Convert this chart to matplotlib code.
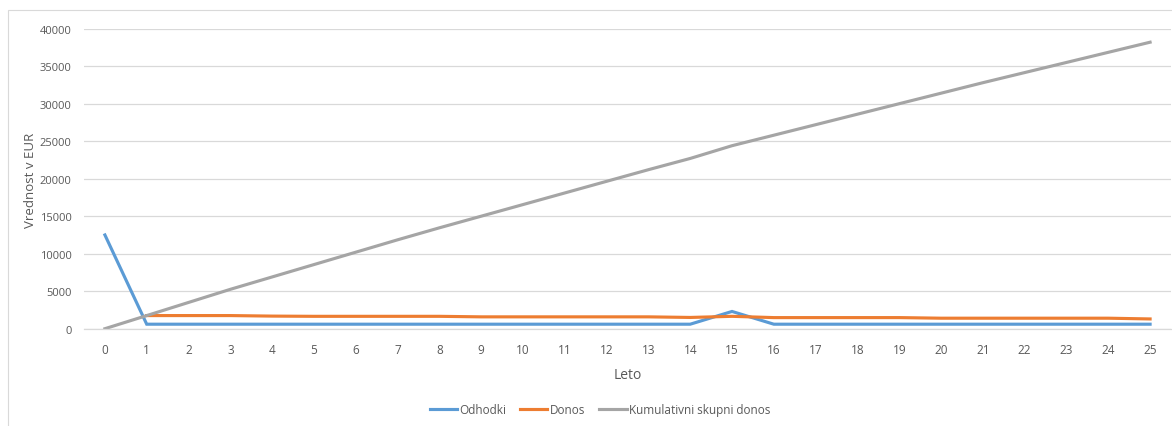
import numpy as np
import matplotlib.pyplot as plt
from matplotlib.patches import Rectangle

# Podatki po letih
leta = list(range(26))
odhodki = [12500, 600, 600, 600, 600, 600, 600, 600, 600, 600, 600, 600, 600, 600,
           600, 2300, 600, 600, 600, 600, 600, 600, 600, 600, 600, 600]
donos = [np.nan, 1750, 1750, 1750, 1680, 1650, 1650, 1650, 1650, 1580, 1580, 1580,
         1580, 1580, 1500, 1650, 1480, 1480, 1480, 1480, 1400, 1400, 1400, 1400, 1400, 1300]
kumulativa = [0, 1750, 3500, 5250, 6900, 8550, 10200, 11850, 13450, 15000, 16550,
              18100, 19650, 21200, 22700, 24400, 25800, 27200, 28600, 30000, 31400,
              32800, 34150, 35500, 36850, 38200]

plt.rcParams['font.family'] = ['Open Sans', 'DejaVu Sans']
txt = '#595959'

fig = plt.figure(figsize=(11.72, 4.27), dpi=100)
ax = fig.add_axes([84 / 1172, 1 - 329.7 / 427, (1171 - 84) / 1172, 300 / 427])

# okvir grafikona
fig.patches.append(Rectangle((8 / 1172, -0.1), 1.2, 1 - 11 / 427 + 0.1,
                             transform=fig.transFigure, fill=False,
                             edgecolor='#d9d9d9', linewidth=0.8))

ax.plot(leta, odhodki, color='#5B9BD5', lw=2.25, label='Odhodki', solid_joinstyle='miter')
ax.plot(leta, donos, color='#ED7D31', lw=2.25, label='Donos')
ax.plot(leta, kumulativa, color='#A5A5A5', lw=2.25, label='Kumulativni skupni donos')

ax.set_xlim(-0.5, 25.5)
ax.set_ylim(0, 40000)
ax.set_xticks(leta)
ax.set_yticks(range(0, 40001, 5000))
ax.grid(axis='y', color='#d9d9d9', lw=0.9)
ax.set_axisbelow(True)
for s in ['top', 'right', 'left']:
    ax.spines[s].set_visible(False)
ax.spines['bottom'].set_color('#d9d9d9')
ax.spines['bottom'].set_linewidth(0.9)
ax.tick_params(length=0, colors=txt, labelsize=8)
ax.tick_params(axis='x', labelsize=8.5, pad=10)
ax.tick_params(axis='y', pad=9)

ax.set_xlabel('Leto', color=txt, fontsize=10, labelpad=8)
fig.text(31 / 1172, 1 - 180 / 427, 'Vrednost v EUR', rotation=90, color=txt,
         fontsize=9.5, ha='center', va='center')

fig.legend(loc='center', bbox_to_anchor=(600 / 1172, 1 - 411 / 427), ncol=3,
           frameon=False, fontsize=8.5, labelcolor=txt, handlelength=2.3,
           handletextpad=0.2, columnspacing=1.2)

fig.savefig('out.png', dpi=100)
